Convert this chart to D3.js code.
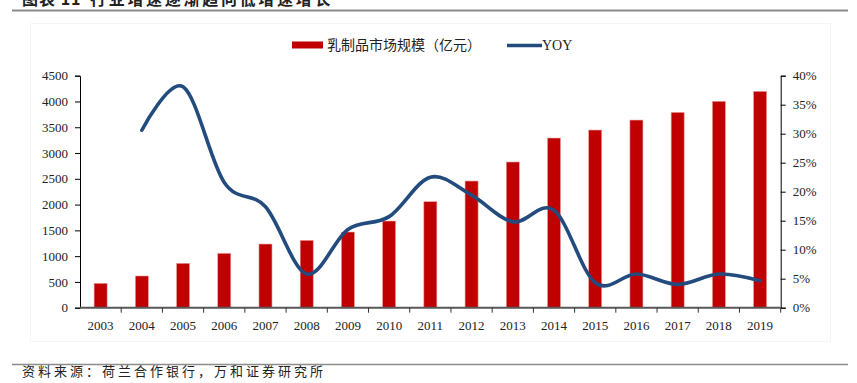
<!DOCTYPE html>
<html><head><meta charset="utf-8">
<script src="https://cdn.jsdelivr.net/npm/d3@7"></script>
<style>
html,body{margin:0;padding:0;background:#fff;}
svg{display:block;}
text{font-family:"Liberation Serif","Noto Sans CJK SC",serif;fill:#222;}
</style></head>
<body><svg id="c" width="857" height="383"></svg>
<script>
const years = ["2003","2004","2005","2006","2007","2008","2009","2010","2011","2012","2013","2014","2015","2016","2017","2018","2019"];
const marketSize = [473,615,861,1055,1235,1307,1468,1681,2056,2457,2826,3291,3446,3640,3789,4003,4196];
const yoy = [null,30.6,38.1,21.6,17.4,5.8,13.5,15.7,22.5,19.4,14.8,16.8,4.3,5.8,4.0,5.8,4.65];
const leftTicks = [0,500,1000,1500,2000,2500,3000,3500,4000,4500];
const rightTicks = [0,5,10,15,20,25,30,35,40];
const titleLabel = "图表 11";
const titleText = "行业增速逐渐趋向低增速增长";
const barLabel = "乳制品市场规模（亿元）";
const lineLabel = "YOY";
const sourceText = "资料来源：荷兰合作银行，万和证券研究所";

const svg = d3.select("#c");
const L = 80, R = 780.7, T = 75.7, B = 307.7;

// header / footer decoration
svg.append("text").attr("x",22).attr("y",4.5).attr("font-size",16).attr("font-weight","bold")
  .attr("letter-spacing","1px").style("font-family","'Noto Sans CJK SC'").text(titleLabel);
svg.append("text").attr("x",90).attr("y",4.5).attr("font-size",16).attr("font-weight","bold")
  .attr("letter-spacing","2.7px").style("font-family","'Noto Sans CJK SC'").text(titleText);
svg.append("line").attr("x1",12).attr("x2",848).attr("y1",10.5).attr("y2",10.5)
  .attr("stroke","#8c8c8c").attr("stroke-width",2);
svg.append("rect").attr("x",30.5).attr("y",23.5).attr("width",800).attr("height",318)
  .attr("fill","none").attr("stroke","#f5f5f5");
svg.append("line").attr("x1",12).attr("x2",848).attr("y1",364.5).attr("y2",364.5)
  .attr("stroke","#8c8c8c").attr("stroke-width",1.5);
svg.append("text").attr("x",22).attr("y",376).attr("font-size",13).attr("letter-spacing","3px")
  .style("font-family","'Noto Sans CJK SC'").text(sourceText);

const x = d3.scaleBand().domain(years).range([L,R]).paddingInner(0.684).paddingOuter(0.342);
const yL = d3.scaleLinear().domain([0,4500]).range([B,T]);
const yR = d3.scaleLinear().domain([0,40]).range([B,T]);

// bars
svg.append("g").selectAll("rect").data(years).join("rect")
  .attr("x",(d)=>x(d)).attr("width",x.bandwidth())
  .attr("y",(d,i)=>yL(marketSize[i])).attr("height",(d,i)=>B-yL(marketSize[i]))
  .attr("fill","#c00000").attr("stroke","#e8a0a0").attr("stroke-width",0.6);

// line
const pts = years.map((d,i)=>({x:x(d)+x.bandwidth()/2, v:yoy[i]})).filter(p=>p.v!=null);
const line = d3.line().x(p=>p.x).y(p=>yR(p.v)).curve(d3.curveCardinal.tension(0));
svg.append("path").datum(pts).attr("d",line).attr("fill","none")
  .attr("stroke","#234b7d").attr("stroke-width",3.6).attr("stroke-linecap","round");

// left axis
const gl = svg.append("g").attr("transform",`translate(${L},0)`)
  .call(d3.axisLeft(yL).tickValues(leftTicks).tickSize(5).tickPadding(7).tickFormat(d3.format("d")));
gl.select(".domain").attr("stroke","#000");
gl.selectAll(".tick line").attr("stroke","#000");
gl.selectAll("text").attr("font-size",13).attr("fill","#222").style("font-family","'Liberation Serif'");

// right axis
const gr = svg.append("g").attr("transform",`translate(${R},0)`)
  .call(d3.axisRight(yR).tickValues(rightTicks).tickSize(5).tickPadding(7).tickFormat(d=>d+"%"));
gr.select(".domain").attr("stroke","#000");
gr.selectAll(".tick line").attr("stroke","#000");
gr.selectAll("text").attr("font-size",13).attr("fill","#222").style("font-family","'Liberation Serif'");

// bottom axis
const gb = svg.append("g").attr("transform",`translate(0,${B})`)
  .call(d3.axisBottom(x).tickSize(0).tickPadding(13));
gb.select(".domain").remove();
gb.selectAll("text").attr("font-size",13).attr("fill","#222").style("font-family","'Liberation Serif'");
svg.append("line").attr("x1",L).attr("x2",R).attr("y1",B).attr("y2",B)
  .attr("stroke","#595959").attr("stroke-width",2);
svg.append("g").selectAll("line").data(years.slice(1).concat(["end"])).join("line")
  .attr("x1",(d,i)=> i<years.length-1 ? x(d)-x.step()*x.paddingInner()/2 : R)
  .attr("x2",(d,i)=> i<years.length-1 ? x(d)-x.step()*x.paddingInner()/2 : R)
  .attr("y1",B).attr("y2",B+5).attr("stroke","#333").attr("stroke-width",1);

// legend
svg.append("rect").attr("x",292).attr("y",41.5).attr("width",31).attr("height",7).attr("fill","#c00000");
svg.append("text").attr("x",327).attr("y",50).attr("font-size",14)
  .style("font-family","'Noto Sans CJK SC'").text(barLabel);
svg.append("line").attr("x1",507).attr("x2",542).attr("y1",45.5).attr("y2",45.5)
  .attr("stroke","#234b7d").attr("stroke-width",3.6);
svg.append("text").attr("x",542).attr("y",50).attr("font-size",14).text(lineLabel);
</script></body></html>
